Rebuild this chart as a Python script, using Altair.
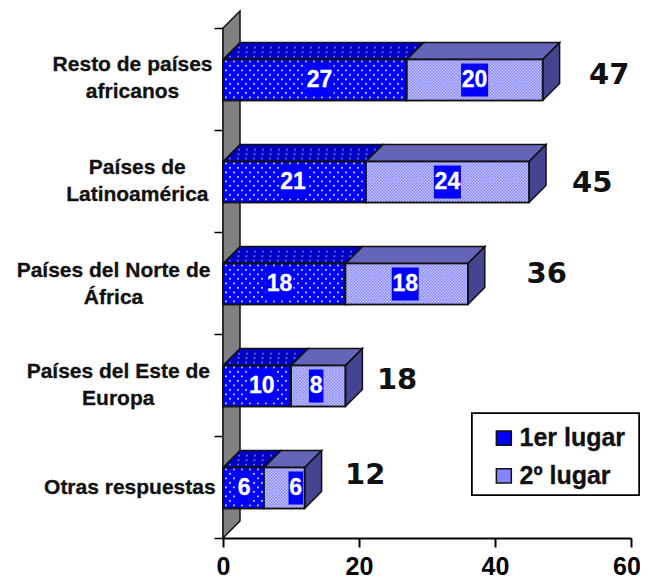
import altair as alt
import pandas as pd

categories = ["Otras respuestas", "Países del Este de\nEuropa", "Países del Norte de\nÁfrica",
              "Países de\nLatinoamérica", "Resto de países\nafricanos"]
primero = [6, 10, 18, 21, 27]
segundo = [6, 8, 18, 24, 20]
totales = [12, 18, 36, 45, 47]

PX = 1 / 6.8      # x units per pixel
PY = 1 / 102      # y units per pixel
DX, DY = 17 * PX, 17 * PY
H = 0.2
centres = [0.49, 1.49, 2.49, 3.49, 4.49]
cat_x = [-13.7, -15.4, -16.1, -12.6, -13.3]
cat_y = [0.49, 1.627, 2.617, 3.627, 4.637]
tot_x = [20.9, 25.6, 47.6, 54.3, 56.8]
tot_y = [0.62, 1.55, 2.59, 3.48, 4.54]
shift1 = [0.1, 0.7, -0.7, -0.2, 0.7]
shift2 = [1.7, -0.3, -0.2, 0, 0]

def poly(rows, pid, pts, color):
    for i, (x, y) in enumerate(pts + [pts[0]]):
        rows.append(dict(pid=pid, ord=i, x=x, y=y, color=color))

rows = []
poly(rows, "wall", [(0, 0), (DX, DY), (DX, 5 + DY), (0, 5)], "#808080")
front, dots, fine = [], [], []
labbg, labs = [], []
for k, c in enumerate(centres):
    a, b = primero[k], primero[k] + segundo[k]
    t, m = c + H, c - H
    front.append(dict(x=0, x2=a, y=m, y2=t, color="#0000FF"))
    front.append(dict(x=a, x2=b, y=m, y2=t, color="#8585FF"))
    poly(rows, f"top1{k}", [(0, t), (a, t), (a + DX, t + DY), (DX, t + DY)], "#0000C4")
    poly(rows, f"top2{k}", [(a, t), (b, t), (b + DX, t + DY), (a + DX, t + DY)], "#6464B8")
    poly(rows, f"side{k}", [(b, m), (b + DX, m + DY), (b + DX, t + DY), (b, t)], "#444490")
    # white dot texture of the first series
    ny = 0
    v = m + 3 * PY
    while v < t - 1 * PY:
        u = (3 if ny % 2 == 0 else 7) * PX
        while u < a - 1 * PX:
            dots.append(dict(x=u, y=v, color="#FFFFFF"))
            u += 8 * PX
        v += 4.5 * PY
        ny += 1
    # top-face texture of first series
    v = t + 3 * PY
    ny = 0
    while v < t + DY - 1 * PY:
        off = v - t
        u = (4 if ny % 2 == 0 else 8) * PX
        while u < a - 1 * PX:
            dots.append(dict(x=u + off * 102 / 6.8, y=v, color="#8080D8"))
            u += 8 * PX
        v += 4.5 * PY
        ny += 1
    # fine texture of the second series
    v = m + 1.5 * PY
    ny = 0
    while v < t:
        u = a + (1.5 if ny % 2 == 0 else 3) * PX
        while u < b - 0.5 * PX:
            fine.append(dict(x=u, y=v))
            u += 3 * PX
        v += 1.5 * PY
        ny += 1
    w1 = 13 * len(str(primero[k])) + 2
    w2 = 12.5 * len(str(segundo[k])) + 2
    x1 = a / 2 + shift1[k]
    x2 = a + segundo[k] / 2 + shift2[k]
    for xc, w, val in ((x1, w1, primero[k]), (x2, w2, segundo[k])):
        labbg.append(dict(x=xc - w / 2 * PX, x2=xc + w / 2 * PX, y=c - 16.5 * PY, y2=c + 16.5 * PY))
        labs.append(dict(x=xc, y=c, t=str(val)))

X = alt.X("x:Q", scale=alt.Scale(domain=[0, 60], nice=False),
          axis=alt.Axis(values=[0, 20, 40, 60], title=None, grid=False, tickSize=9, tickWidth=2,
                        tickColor="black", domainColor="black", domainWidth=2, labelColor="black",
                        labelFont="Liberation Sans", labelFontWeight="bold", labelFontSize=25,
                        labelPadding=7, format="d", labelFlush=False, labelOverlap=False,
                        labelExpr="datum.value == 60 ? '' : datum.label"))
Y = alt.Y("y:Q", scale=alt.Scale(domain=[0, 5], nice=False),
          axis=alt.Axis(values=[0, 1, 2, 3, 4, 5], title=None, grid=False, tickSize=9, tickWidth=1.5,
                        tickColor="black", domainColor="black", domainWidth=2, labels=False))

layers = []
df = pd.DataFrame(rows)
for col in ["#808080", "#0000C4", "#6464B8", "#444490"]:
    sub = df[df.color == col]
    layers.append(alt.Chart(sub).mark_line(fill=col, stroke="#111111", strokeWidth=1.5, interpolate="linear")
                  .encode(x=X, y=Y, detail="pid:N", order="ord:Q"))
fr = pd.DataFrame(front)
layers.append(alt.Chart(fr).mark_rect(stroke="#111111", strokeWidth=1.5).encode(
    x=X, x2="x2:Q", y=Y, y2="y2:Q", fill=alt.Fill("color:N", scale=None)))
layers.append(alt.Chart(pd.DataFrame(fine)).mark_point(shape="square", size=2, filled=True, color="#D8D8FF", opacity=0.9)
              .encode(x=X, y=Y))
layers.append(alt.Chart(pd.DataFrame(dots)).mark_point(shape="square", size=3.5, filled=True, opacity=0.8)
              .encode(x=X, y=Y, color=alt.Color("color:N", scale=None)))
layers.append(alt.Chart(fr).mark_rect(fillOpacity=0, stroke="#111111", strokeWidth=1.5).encode(
    x=X, x2="x2:Q", y=Y, y2="y2:Q"))
layers.append(alt.Chart(pd.DataFrame(labbg)).mark_rect(fill="#0000FF").encode(x=X, x2="x2:Q", y=Y, y2="y2:Q"))
layers.append(alt.Chart(pd.DataFrame(labs)).mark_text(font="Liberation Sans", fontWeight="bold", fontSize=23,
                                                     color="white", baseline="middle", align="center",
                                                     stroke="white", strokeWidth=0.3)
              .encode(x=X, y=Y, text="t:N"))
# "60" tick label, nudged to stay inside the page
layers.append(alt.Chart(pd.DataFrame([dict(x=59.4, t="60")])).mark_text(
    font="Liberation Sans", fontWeight="bold", fontSize=25, color="black", baseline="middle", align="center", dy=29)
    .encode(x=X, y=alt.value(510), text="t:N"))
tdf = pd.DataFrame(dict(x=tot_x, y=tot_y, t=[str(v) for v in totales]))
layers.append(alt.Chart(tdf).mark_text(font="DejaVu Sans", fontWeight="bold", fontSize=29, color="#111111",
                                       baseline="middle", align="center").encode(x=X, y=Y, text="t:N"))
cdf = pd.DataFrame(dict(x=cat_x, y=cat_y, t=[c.split("\n") for c in categories]))
layers.append(alt.Chart(cdf).mark_text(font="Liberation Sans", fontWeight="bold", fontSize=21, color="#111111",
                                       baseline="middle", align="center", lineHeight=27,
                                       stroke="#111111", strokeWidth=0.3)
              .encode(x=X, y=Y, text="t:N"))
layers.append(alt.Chart(pd.DataFrame([dict(x=36.6, x2=61.2, y=0.42, y2=1.225)])).mark_rect(
    fill="white", stroke="black", strokeWidth=1.8).encode(x=X, x2="x2:Q", y=Y, y2="y2:Q"))
sw = pd.DataFrame([dict(x=40.2, x2=42.4, y=0.91, y2=1.05, color="#0000FF"),
                   dict(x=40.2, x2=42.4, y=0.54, y2=0.68, color="#8585FF")])
layers.append(alt.Chart(sw).mark_rect(stroke="#111111", strokeWidth=1.5).encode(
    x=X, x2="x2:Q", y=Y, y2="y2:Q", fill=alt.Fill("color:N", scale=None)))
ld = pd.DataFrame(dict(x=[43.6, 43.6], y=[0.98, 0.61], t=["1er lugar", "2º lugar"]))
layers.append(alt.Chart(ld).mark_text(font="Liberation Sans", fontWeight="bold", fontSize=25, color="#111111",
                                      baseline="middle", align="left", stroke="#111111", strokeWidth=0.3)
              .encode(x=X, y=Y, text="t:N"))

chart = alt.layer(*layers).properties(
    width=408, height=510, padding={"left": 215, "top": 20, "right": 9, "bottom": 44},
    autosize=alt.AutoSizeParams(type="none")
).configure_view(stroke=None)
chart.save("out.html", embed_options={"renderer": "svg", "actions": False})
